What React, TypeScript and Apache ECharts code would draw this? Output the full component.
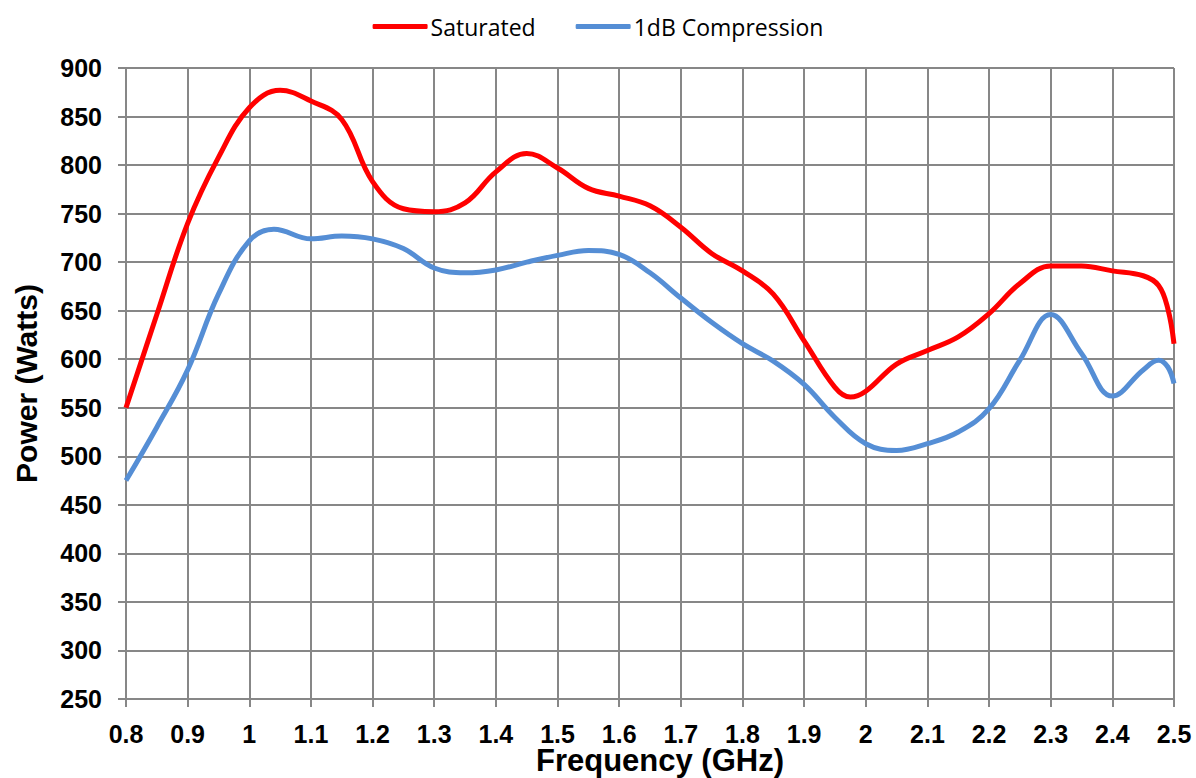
import React, { useEffect, useRef } from "react";
import * as echarts from "echarts";

const satFreq = [0.8, 0.85, 0.9, 0.95, 1.0, 1.05, 1.1, 1.15, 1.2, 1.25, 1.3, 1.35, 1.4, 1.45, 1.5, 1.55, 1.6, 1.65, 1.7, 1.75, 1.8, 1.85, 1.9, 1.95, 1.975, 2.0, 2.05, 2.1, 2.15, 2.2, 2.25, 2.3, 2.35, 2.4, 2.45, 2.475, 2.49, 2.5];
const satPower = [550, 646, 740, 808, 859, 877, 866, 847, 783, 755, 752, 761, 793, 812, 797, 776, 768, 758, 736, 709, 691, 667, 619, 571, 561, 567, 595, 609, 623, 647, 678, 696, 696, 691, 686, 676, 652, 616];

const cmpFreq = [0.8, 0.85, 0.9, 0.95, 1.0, 1.04, 1.1, 1.15, 1.2, 1.25, 1.3, 1.35, 1.4, 1.45, 1.5, 1.55, 1.6, 1.65, 1.7, 1.75, 1.8, 1.85, 1.9, 1.95, 2.0, 2.05, 2.1, 2.15, 2.2, 2.25, 2.3, 2.35, 2.4, 2.45, 2.475, 2.49, 2.5];
const cmpPower = [475, 530, 589, 667, 722, 734, 724, 727, 724, 714, 694, 689, 692, 700, 707, 712, 708, 689, 663, 638, 616, 598, 574, 540, 513, 506, 513, 525, 549, 599, 646, 606, 562, 589, 599, 592, 575];

const seriesNames = ["Saturated", "1dB Compression"];
const xAxisTitle = "Frequency (GHz)";
const yAxisTitle = "Power (Watts)";

export default function App() {
  const ref = useRef<HTMLDivElement>(null);
  useEffect(() => {
    if (!ref.current) return;
    const chart = echarts.init(ref.current, null, { renderer: "svg" });
    const grey = "#878787";
    const labelFont = {
      fontFamily: "Liberation Sans, Arial, sans-serif",
      fontWeight: "bold" as const,
      fontSize: 25,
      color: "#000",
    };
    chart.setOption({
      animation: false,
      backgroundColor: "#fff",
      legend: {
        top: 10,
        left: "center",
        itemWidth: 55,
        itemHeight: 5,
        itemGap: 40,
        icon: "roundRect",
        textStyle: { fontFamily: "Open Sans, sans-serif", fontSize: 23, color: "#000", padding: [0, 0, 0, -2] },
        data: seriesNames,
      },
      grid: { left: 126, right: 22, top: 68, bottom: 79, containLabel: false, outerBoundsMode: "none" },
      xAxis: {
        type: "value",
        min: 0.8,
        max: 2.5,
        interval: 0.1,
        name: xAxisTitle,
        nameLocation: "middle",
        nameGap: 44,
        nameMoveOverlap: false,
        nameTextStyle: { ...labelFont, fontSize: 31, lineHeight: 34, padding: [0, 0, 0, 20] },
        axisLine: { show: true, lineStyle: { color: grey, width: 2 } },
        axisTick: { show: true, length: 8, lineStyle: { color: grey, width: 2 } },
        axisLabel: {
          ...labelFont,
          margin: 22,
          formatter: (v: number) => String(Math.round(v * 10) / 10),
        },
        splitLine: { show: true, lineStyle: { color: grey, width: 2 } },
      },
      yAxis: {
        type: "value",
        min: 250,
        max: 900,
        interval: 50,
        name: yAxisTitle,
        nameLocation: "middle",
        nameGap: 85,
        nameMoveOverlap: false,
        nameRotate: 90,
        nameTextStyle: { ...labelFont, fontSize: 30 },
        axisLine: { show: true, lineStyle: { color: grey, width: 2 } },
        axisTick: { show: true, length: 8, lineStyle: { color: grey, width: 2 } },
        axisLabel: { ...labelFont, margin: 24 },
        splitLine: { show: true, lineStyle: { color: grey, width: 2 } },
      },
      series: [
        {
          name: seriesNames[0],
          type: "line",
          smooth: 0.4,
          symbol: "none",
          data: satFreq.map((f, i) => [f, satPower[i]]),
          lineStyle: { color: "#FF0000", width: 5 },
          itemStyle: { color: "#FF0000" },
          z: 3,
        },
        {
          name: seriesNames[1],
          type: "line",
          smooth: 0.4,
          symbol: "none",
          data: cmpFreq.map((f, i) => [f, cmpPower[i]]),
          lineStyle: { color: "#558ED5", width: 5 },
          itemStyle: { color: "#558ED5" },
          z: 2,
        },
      ],
    });
    return () => chart.dispose();
  }, []);
  return <div ref={ref} style={{ width: 1196, height: 778, position: "absolute", left: 0, top: 0 }} />;
}
